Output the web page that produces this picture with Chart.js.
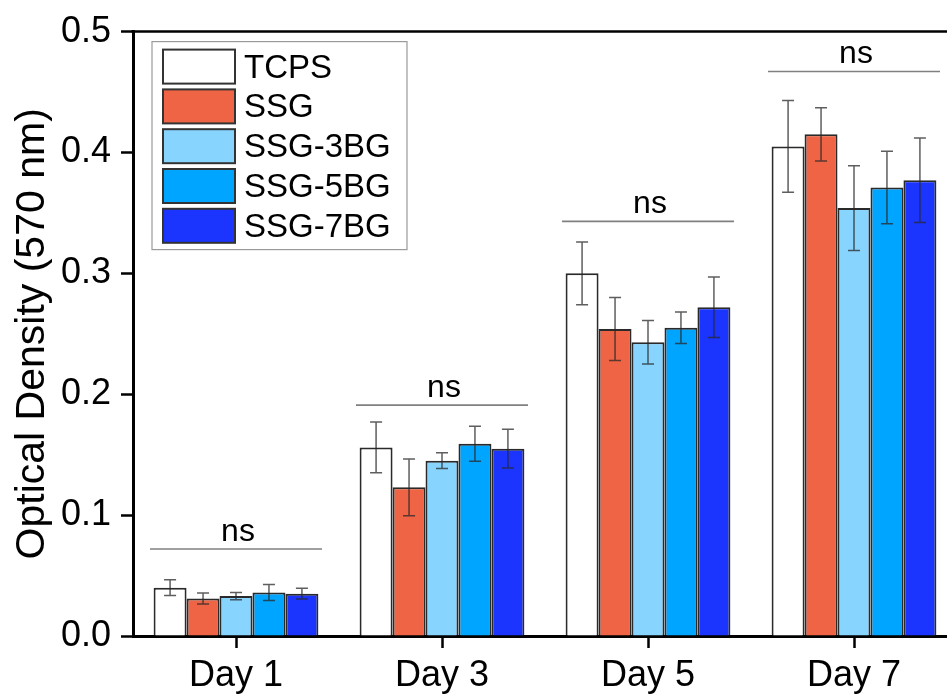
<!DOCTYPE html>
<html>
<head>
<meta charset="utf-8">
<script src="https://cdn.jsdelivr.net/npm/chart.js@4.4.1/dist/chart.umd.min.js"></script>
<style>
  html, body { margin: 0; padding: 0; overflow: hidden; background: #fff; }
  canvas { display: block; }
</style>
</head>
<body>
<canvas id="odChart" width="957" height="695"></canvas>
<script>
// ---- data ----
const days = ['Day 1', 'Day 3', 'Day 5', 'Day 7'];
const groupNames = ['TCPS', 'SSG', 'SSG-3BG', 'SSG-5BG', 'SSG-7BG'];

const tcps   = [0.040, 0.156, 0.300, 0.405];
const ssg    = [0.031, 0.123, 0.254, 0.415];
const ssg3bg = [0.033, 0.145, 0.243, 0.354];
const ssg5bg = [0.036, 0.159, 0.255, 0.371];
const ssg7bg = [0.035, 0.155, 0.272, 0.377];

const tcpsErr   = [0.0065, 0.021, 0.026, 0.038];
const ssgErr    = [0.0045, 0.0235, 0.026, 0.022];
const ssg3bgErr = [0.003, 0.0065, 0.018, 0.035];
const ssg5bgErr = [0.0066, 0.0145, 0.013, 0.030];
const ssg7bgErr = [0.0044, 0.016, 0.025, 0.035];

const nsHeights = [0.072, 0.191, 0.343, 0.467];
const nsLabels  = ['ns', 'ns', 'ns', 'ns'];

const yTicks = [0.0, 0.1, 0.2, 0.3, 0.4, 0.5];

const fillColors = ['#ffffff', '#ee6445', '#87d4ff', '#00a5ff', '#1b35ff'];
const FONT = "'Liberation Sans', Arial, sans-serif";

const values = [tcps, ssg, ssg3bg, ssg5bg, ssg7bg];
const errors = [tcpsErr, ssgErr, ssg3bgErr, ssg5bgErr, ssg7bgErr];

// ======================= PLUGINS =======================

// error bars, drawn with the y scale
const errorBarPlugin = {
  id: 'errorBars',
  afterDatasetsDraw(chart) {
    const ctx = chart.ctx;
    const y = chart.scales.y;
    ctx.save();
    ctx.strokeStyle = 'rgba(40,40,40,0.75)';
    ctx.lineWidth = 1.5;
    chart.data.datasets.forEach((ds, di) => {
      const meta = chart.getDatasetMeta(di);
      meta.data.forEach((bar, i) => {
        const v = ds.data[i];
        const e = ds.err[i];
        const yTop = y.getPixelForValue(v + e);
        const yBot = y.getPixelForValue(v - e);
        const cap = 6;
        ctx.beginPath();
        ctx.moveTo(bar.x, yTop); ctx.lineTo(bar.x, yBot);
        ctx.moveTo(bar.x - cap, yTop); ctx.lineTo(bar.x + cap, yTop);
        ctx.moveTo(bar.x - cap, yBot); ctx.lineTo(bar.x + cap, yBot);
        ctx.stroke();
      });
    });
    ctx.restore();
  }
};

// "ns" brackets over each day group + top frame line
const nsPlugin = {
  id: 'nsBrackets',
  afterDraw(chart) {
    const ctx = chart.ctx;
    const x = chart.scales.x;
    const y = chart.scales.y;
    const area = chart.chartArea;
    ctx.save();
    // top frame line
    ctx.strokeStyle = '#000';
    ctx.lineWidth = 2.5;
    ctx.beginPath();
    ctx.moveTo(area.left - 1.5, area.top);
    ctx.lineTo(area.right, area.top);
    ctx.stroke();

    ctx.strokeStyle = '#808080';
    ctx.lineWidth = 1.6;
    ctx.fillStyle = '#000';
    ctx.font = '32px ' + FONT;
    ctx.textAlign = 'center';
    ctx.textBaseline = 'alphabetic';
    nsHeights.forEach((h, i) => {
      const cx = x.getPixelForValue(i);
      const py = y.getPixelForValue(h);
      ctx.beginPath();
      ctx.moveTo(cx - 86, py);
      ctx.lineTo(cx + 86, py);
      ctx.stroke();
      ctx.fillText(nsLabels[i], cx + 2, py - 8);
    });
    ctx.restore();
  }
};

// legend box in the upper left of the plot
const legendBoxPlugin = {
  id: 'legendBox',
  afterDraw(chart) {
    const ctx = chart.ctx;
    const area = chart.chartArea;
    const bx = area.left + 19, by = area.top + 10;
    const bw = 255, bh = 208;
    ctx.save();
    ctx.fillStyle = '#fff';
    ctx.fillRect(bx, by, bw, bh);
    ctx.strokeStyle = '#9a9a9a';
    ctx.lineWidth = 1.2;
    ctx.strokeRect(bx, by, bw, bh);
    ctx.font = '33px ' + FONT;
    ctx.textBaseline = 'middle';
    ctx.textAlign = 'left';
    chart.data.datasets.forEach((ds, i) => {
      const sy = by + 8 + i * 39.8;
      ctx.fillStyle = ds.backgroundColor;
      ctx.fillRect(bx + 11, sy, 72, 34);
      ctx.strokeStyle = '#333';
      ctx.lineWidth = 2;
      ctx.strokeRect(bx + 11, sy, 72, 34);
      ctx.fillStyle = '#000';
      ctx.fillText(ds.label, bx + 92, sy + 19);
    });
    ctx.restore();
  }
};

// ======================= CHART =======================

const ctx = document.getElementById('odChart').getContext('2d');

new Chart(ctx, {
  type: 'bar',
  data: {
    labels: days,
    datasets: groupNames.map((name, i) => ({
      label: name,
      data: values[i],
      err: errors[i],
      backgroundColor: fillColors[i],
      borderColor: '#2a2a2a',
      borderWidth: 2,
      borderSkipped: 'bottom',
      categoryPercentage: 0.8,
      barPercentage: 1.0
    }))
  },
  options: {
    responsive: false,
    animation: false,
    devicePixelRatio: 1,
    layout: { padding: { top: 28, right: 0, bottom: 0, left: 0 } },
    plugins: {
      legend: { display: false },
      tooltip: { enabled: false }
    },
    scales: {
      x: {
        offset: true,
        grid: {
          display: true,
          offset: false,
          drawOnChartArea: false,
          drawTicks: true,
          tickLength: 12,
          tickWidth: 2.5,
          tickColor: '#000'
        },
        border: { display: true, color: '#000', width: 3 },
        ticks: {
          color: '#000',
          padding: 6,
          font: { family: FONT, size: 36 }
        },
        afterFit(scale) { scale.height = 59; }
      },
      y: {
        min: 0,
        max: 0.5,
        afterBuildTicks(scale) { scale.ticks = yTicks.map(v => ({ value: v })); },
        grid: {
          display: true,
          drawOnChartArea: false,
          drawTicks: true,
          tickLength: 12,
          tickWidth: 2.5,
          tickColor: '#000'
        },
        border: { display: true, color: '#000', width: 3 },
        ticks: {
          color: '#000',
          padding: 10,
          font: { family: FONT, size: 36 },
          callback: v => Number(v).toFixed(1)
        },
        title: {
          display: true,
          text: 'Optical Density (570 nm)',
          color: '#000',
          font: { family: FONT, size: 41 },
          padding: { top: 8, bottom: 0 }
        },
        afterFit(scale) { scale.width = 133; }
      }
    }
  },
  plugins: [errorBarPlugin, nsPlugin, legendBoxPlugin]
});
</script>
</body>
</html>
